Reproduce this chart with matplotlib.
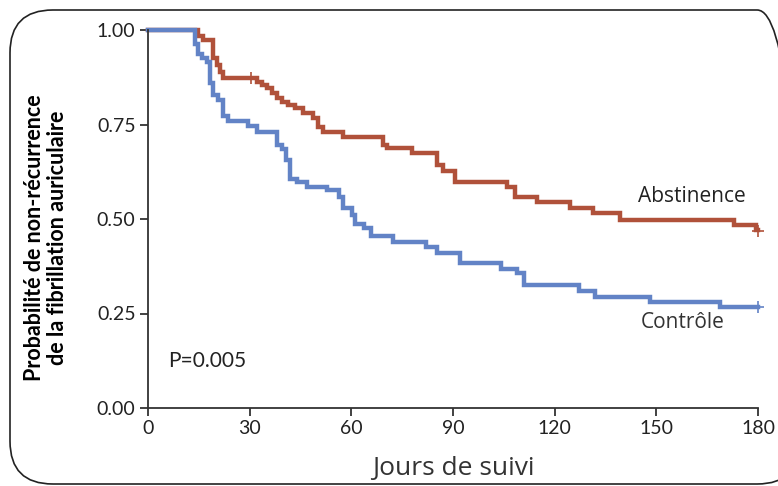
import numpy as np
import matplotlib.pyplot as plt
from matplotlib.patches import FancyBboxPatch

# Kaplan-Meier steps (jours, probabilité)
abst_t = [0, 14.8, 16.3, 19.3, 20.3, 21.2, 22.0, 32.1, 33.5, 35.0, 36.5, 38.0, 39.4,
          41.4, 43.4, 45.8, 48.8, 50.3, 51.7, 57.6, 69.4, 70.4, 77.8, 85.2, 87.1,
          90.6, 105.9, 108.3, 114.8, 124.5, 131.4, 139.3, 172.9, 179.5, 180]
abst_s = [1.0, 0.983, 0.974, 0.925, 0.907, 0.89, 0.872, 0.863, 0.854, 0.846, 0.833,
          0.819, 0.810, 0.802, 0.793, 0.780, 0.766, 0.744, 0.731, 0.718, 0.696, 0.687,
          0.675, 0.643, 0.628, 0.598, 0.584, 0.557, 0.545, 0.530, 0.515, 0.497, 0.484,
          0.472, 0.472]

ctrl_t = [0, 13.9, 14.9, 15.8, 17.3, 18.3, 19.3, 20.8, 22.0, 23.7, 29.4, 32.3, 38.0,
          39.4, 40.8, 41.9, 43.9, 46.8, 52.7, 56.4, 57.6, 60.1, 61.1, 63.8, 65.8,
          72.4, 82.0, 85.2, 92.1, 104.2, 108.8, 111.0, 127.3, 131.9, 148.1, 168.8, 180]
ctrl_s = [1.0, 0.962, 0.937, 0.925, 0.916, 0.860, 0.828, 0.814, 0.773, 0.758, 0.746,
          0.731, 0.697, 0.684, 0.657, 0.607, 0.599, 0.585, 0.576, 0.559, 0.528, 0.511,
          0.487, 0.475, 0.455, 0.438, 0.427, 0.411, 0.383, 0.367, 0.356, 0.325, 0.310,
          0.294, 0.281, 0.268, 0.268]

# patients censurés
abst_cens_t = [30.5, 180]
abst_cens_s = [0.872, 0.468]
ctrl_cens_t = [180]
ctrl_cens_s = [0.268]

red = '#b0513a'
blue = '#6283c6'

fig = plt.figure(figsize=(7.78, 4.86), dpi=100)

# cadre arrondi autour de la figure
box = FancyBboxPatch((10 / 778, 2 / 486), 790 / 778, 474 / 486,
                     boxstyle='round,pad=0,rounding_size=0.055',
                     transform=fig.transFigure, fill=False,
                     edgecolor='#222222', linewidth=1.2,
                     mutation_aspect=778 / 486)
fig.patches.append(box)

ax = fig.add_axes([148 / 778, 1 - 408 / 486, 610 / 778, 378 / 486])

ax.step(abst_t, abst_s, where='post', color=red, lw=3.2, clip_on=False, solid_joinstyle='miter')
ax.step(ctrl_t, ctrl_s, where='post', color=blue, lw=3.2, clip_on=False, solid_joinstyle='miter')
ax.plot(abst_cens_t, abst_cens_s, '+', color=red, ms=8, mew=1.2, clip_on=False)
ax.plot(ctrl_cens_t, ctrl_cens_s, '+', color=blue, ms=8, mew=1.2, clip_on=False)

ax.set_xlim(0, 180)
ax.set_ylim(0, 1)
ax.set_xticks([0, 30, 60, 90, 120, 150, 180])
ax.set_yticks([0, 0.25, 0.5, 0.75, 1.0])
ax.set_yticklabels(['0.00', '0.25', '0.50', '0.75', '1.00'])

for side in ['top', 'right']:
    ax.spines[side].set_visible(False)
for side in ['left', 'bottom']:
    ax.spines[side].set_color('#333333')
    ax.spines[side].set_linewidth(1.3)

ax.tick_params(direction='out', length=6, width=1.3, color='#333333',
               labelsize=14, labelcolor='#222222', pad=3)
for lab in ax.get_xticklabels() + ax.get_yticklabels():
    lab.set_family('Lato')

ax.text(144.5, 0.56, 'Abstinence', fontsize=15, family='Open Sans', color='#222222',
        ha='left', va='center')
ax.text(145.5, 0.225, 'Contrôle', fontsize=15, family='Open Sans', color='#333333',
        ha='left', va='center')
ax.text(5.8, 0.125, 'P=0.005', fontsize=15, family='Lato', color='#222222',
        ha='left', va='center')

fig.text(453 / 778, 1 - 468 / 486, 'Jours de suivi', fontsize=19, family='Open Sans',
         color='#333333', ha='center', va='center')
fig.text(46 / 778, 1 - 238 / 486,
         'Probabilité de non-récurrence\nde la fibrillation auriculaire',
         fontsize=15.5, family='Lato', fontweight='bold', rotation=90,
         ha='center', va='center', linespacing=1.1)

fig.savefig('out.png', dpi=100)
